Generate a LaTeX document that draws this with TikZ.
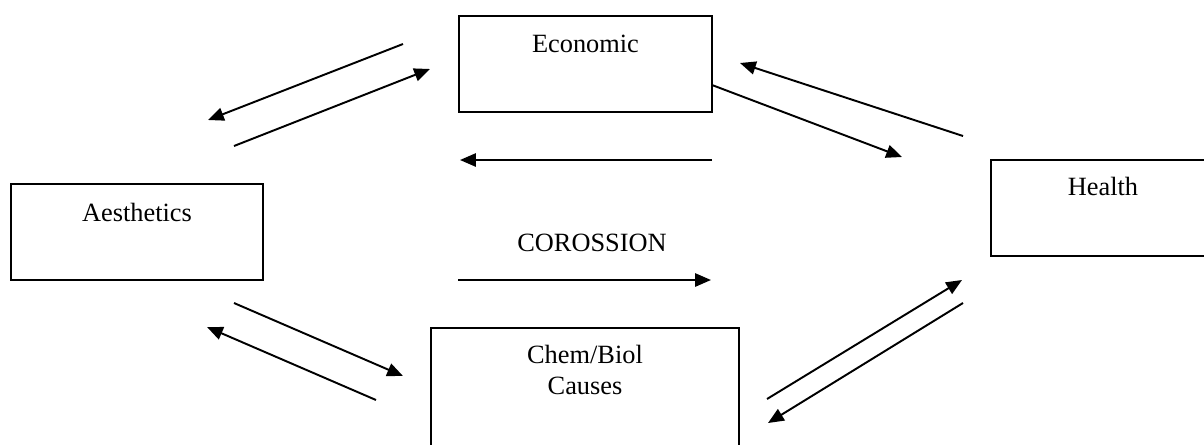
\documentclass[tikz,border=0pt]{standalone}
\usepackage{fontspec}
\setmainfont{Liberation Serif}
\usetikzlibrary{positioning}
\usetikzlibrary{arrows.meta}
\usetikzlibrary{calc}

\begin{document}
\begin{tikzpicture}[x=0.02cm,y=-0.02cm,line width=1.1pt]

            \tikzstyle{box} = [draw, rectangle, minimum height=1.92cm];
            \tikzstyle{lbl} = [anchor=base, inner sep=0pt, align=center, font=\fontsize{15pt}{17.6pt}\selectfont];
            \tikzstyle{arr} = [-{Triangle[length=9pt,width=7.5pt]}];

            \useasboundingbox (0,0) rectangle (1204,444);
            \clip (0,0) rectangle (1204,444);

            \node[box, minimum width=5.06cm] (econ) at (585.5,64) {};
            \node[box, minimum width=5.04cm] (aes) at (137,232) {};
            \node[box, minimum width=4.48cm] (health) at (1103,208) {};
            \node[box, minimum width=6.16cm, minimum height=2.6cm] (chem) at (585,393) {};

            \node[lbl] (econT) at ($(econ.north)+(0,37)$) {Economic};
            \node[lbl] (aesT) at ($(aes.north)+(0,38)$) {Aesthetics};
            \node[lbl] (healthT) at ($(health.north)+(0,36)$) {Health};
            \node[lbl] (chemT) at ($(chem.north)+(0,67)$) {Chem/Biol\\Causes};
            \node[lbl] (cor) at (592,251) {COROSSION};

            \coordinate (a1) at (403,44);  \coordinate (b1) at (208,120);
            \coordinate (a2) at (234,146); \coordinate (b2) at (430,69);
            \coordinate (a3) at (963,136); \coordinate (b3) at (740,63);
            \coordinate (a4) at (712,85);  \coordinate (b4) at (902,157);
            \coordinate (a5) at (712,160); \coordinate (b5) at (460,160);
            \coordinate (a6) at (458,280); \coordinate (b6) at (711,280);
            \coordinate (a7) at (234,303); \coordinate (b7) at (403,376);
            \coordinate (a8) at (376,400); \coordinate (b8) at (207,327);
            \coordinate (a9) at (767,399); \coordinate (b9) at (962,280);
            \coordinate (a10) at (963,303); \coordinate (b10) at (768,423);

            \draw[arr] (a1) -- (b1);
            \draw[arr] (a2) -- (b2);
            \draw[arr] (a3) -- (b3);
            \draw[arr] (a4) -- (b4);
            \draw[arr] (a5) -- (b5);
            \draw[arr] (a6) -- (b6);
            \draw[arr] (a7) -- (b7);
            \draw[arr] (a8) -- (b8);
            \draw[arr] (a9) -- (b9);
            \draw[arr] (a10) -- (b10);
          \end{tikzpicture}
\end{document}
